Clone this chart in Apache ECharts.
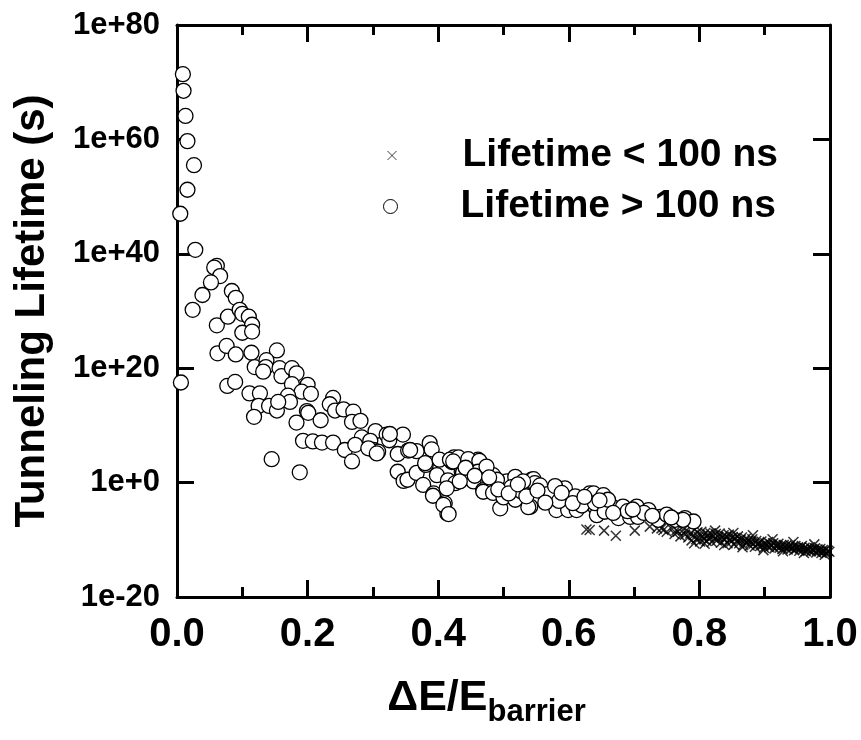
<!DOCTYPE html>
<html>
<head>
<meta charset="utf-8">
<script src="https://cdn.jsdelivr.net/npm/echarts@6/dist/echarts.min.js"></script>
<style>
  html, body { margin: 0; padding: 0; background: #fff; }
  #container { width: 861px; height: 740px; }
</style>
</head>
<body>
<div id="container"></div>
<script>
// points are [ΔE/E_barrier, log10(lifetime in s)]
var shortLived = [
  [0.627,-8.2],[0.632,-8.3],[0.654,-8.4],[0.672,-9.3],[0.701,-8.4],[0.724,-7.7],
  [0.735,-8.0],[0.742,-8.0],[0.745,-8.3],[0.750,-8.6],[0.758,-8.1],[0.762,-9.0],
  [0.765,-8.3],[0.767,-8.6],[0.771,-9.4],[0.775,-8.3],[0.778,-9.1],
  [0.780,-8.4],[0.783,-9.6],[0.786,-8.9],[0.788,-10.1],[0.791,-9.2],[0.793,-8.2],
  [0.795,-9.9],[0.797,-8.7],[0.799,-9.5],[0.801,-10.3],[0.803,-8.6],[0.805,-9.4],
  [0.807,-9.9],[0.809,-8.8],[0.811,-10.2],[0.813,-9.1],[0.815,-9.7],[0.817,-8.9],
  [0.819,-10.4],[0.821,-9.3],[0.823,-9.8],[0.825,-9.0],[0.827,-10.1],[0.829,-9.5],
  [0.831,-8.9],[0.833,-10.5],[0.835,-9.6],[0.837,-9.2],[0.839,-10.0],[0.841,-9.4],
  [0.843,-10.6],[0.845,-9.1],[0.847,-9.9],[0.849,-10.3],[0.851,-9.5],[0.853,-10.8],
  [0.855,-9.7],[0.857,-10.2],[0.859,-9.4],[0.861,-10.6],[0.863,-10.0],[0.865,-9.6],
  [0.867,-10.9],[0.869,-10.3],[0.871,-9.8],[0.873,-10.5],[0.875,-10.1],[0.877,-11.0],
  [0.879,-10.4],[0.881,-9.9],[0.883,-10.7],[0.885,-11.2],[0.887,-10.2],[0.889,-10.8],
  [0.891,-10.5],[0.893,-11.1],[0.895,-10.3],[0.897,-10.9],[0.899,-11.4],[0.901,-10.6],
  [0.903,-11.0],[0.905,-10.4],[0.907,-11.3],[0.909,-10.8],[0.911,-11.1],[0.913,-10.6],
  [0.915,-11.5],[0.917,-10.9],[0.919,-11.2],[0.921,-10.7],[0.923,-11.4],[0.925,-11.0],
  [0.927,-11.6],[0.929,-10.9],[0.931,-11.3],[0.933,-11.0],[0.935,-11.7],[0.937,-11.2],
  [0.939,-10.9],[0.941,-11.5],[0.943,-11.2],[0.945,-11.8],[0.947,-11.1],[0.949,-11.5],
  [0.951,-11.3],[0.953,-11.9],[0.955,-11.4],[0.957,-11.1],[0.959,-11.7],[0.961,-11.4],
  [0.963,-12.0],[0.965,-11.5],[0.967,-11.8],[0.969,-11.3],[0.971,-12.0],[0.973,-11.6],
  [0.975,-11.9],[0.977,-11.5],[0.979,-12.2],[0.981,-11.7],[0.983,-12.0],[0.985,-11.6],
  [0.987,-12.3],[0.989,-11.8],[0.991,-12.1],[0.993,-11.7],[0.995,-12.3],[0.997,-11.9],
  [0.999,-12.1],
  [0.792,-10.6],[0.808,-10.7],[0.824,-8.4],[0.838,-10.9],[0.852,-8.8],[0.866,-11.3],
  [0.882,-9.2],[0.898,-11.8],[0.912,-9.9],[0.928,-12.0],[0.944,-10.4],[0.960,-12.3],
  [0.976,-10.8],[0.992,-12.6]
];

var longLived = [
  [0.009,71.4],[0.010,68.5],[0.013,64.1],[0.016,59.7],[0.026,55.5],[0.016,51.2],
  [0.005,47.0],[0.028,40.7],[0.061,37.9],[0.057,37.6],[0.066,36.1],[0.052,35.0],
  [0.039,32.8],[0.084,33.5],[0.090,32.3],[0.006,17.5],[0.024,30.2],[0.061,27.5],
  [0.078,29.0],[0.096,30.2],[0.100,29.5],[0.110,29.0],[0.115,27.6],[0.100,26.2],
  [0.115,26.4],[0.062,22.6],[0.076,23.9],[0.090,22.4],[0.114,22.7],[0.153,23.1],
  [0.119,20.2],[0.137,21.4],[0.136,20.2],[0.132,19.4],[0.157,20.0],[0.160,18.6],
  [0.176,20.0],[0.183,19.1],[0.176,17.2],[0.200,17.1],[0.191,15.9],[0.205,15.5],
  [0.170,15.2],[0.173,14.1],[0.077,16.9],[0.089,17.6],[0.111,15.6],[0.127,15.6],
  [0.125,13.4],[0.141,13.4],[0.118,11.5],[0.153,12.6],[0.183,10.5],[0.199,12.5],
  [0.201,12.2],[0.220,10.9],[0.239,14.8],[0.234,13.7],[0.242,12.6],[0.255,12.8],
  [0.270,12.4],[0.268,10.6],[0.281,10.8],[0.283,7.9],[0.193,7.3],[0.208,7.2],
  [0.222,7.0],[0.239,7.0],[0.257,5.7],[0.268,3.7],[0.273,6.6],[0.304,9.0],
  [0.321,8.4],[0.346,8.4],[0.296,7.3],[0.301,5.7],[0.308,5.4],[0.325,7.4],
  [0.145,4.1],[0.188,1.8],[0.338,5.0],[0.338,1.9],[0.347,0.3],[0.353,0.5],
  [0.367,5.5],[0.387,6.9],[0.390,5.8],[0.367,1.7],[0.381,3.1],[0.377,-0.4],
  [0.393,-1.9],[0.392,-2.3],[0.398,1.3],[0.155,14.1],
  [0.293,6.0],[0.306,5.1],[0.326,8.5],[0.354,5.6],[0.402,4.0],[0.415,0.4],
  [0.421,3.6],[0.424,4.4],[0.426,-0.1],[0.410,-3.6],[0.414,-5.4],
  [0.357,5.7],[0.380,3.4],[0.408,-3.9],[0.418,4.0],[0.431,4.4],[0.436,1.9],
  [0.449,3.7],[0.461,4.0],[0.464,2.2],[0.454,0.2],[0.469,-1.3],[0.484,-0.4],
  [0.495,-4.5],[0.505,0.2],[0.518,1.0],[0.518,-2.8],[0.541,-4.2],[0.543,0.5],
  [0.546,-1.0],[0.561,-1.6],[0.576,-1.3],[0.581,-4.8],[0.594,-2.5],[0.602,-4.5],
  [0.617,-3.0],[0.632,-1.9],
  [0.423,3.7],[0.446,4.1],[0.463,3.8],[0.438,1.7],[0.461,1.9],[0.413,-1.0],
  [0.433,0.2],[0.416,-5.5],[0.484,1.3],[0.469,-1.6],[0.484,-1.8],[0.500,-2.6],
  [0.518,-3.0],[0.538,-4.3],[0.546,0.6],[0.548,-0.1],[0.574,-2.6],[0.597,-2.6],
  [0.594,-1.0],[0.599,-4.8],[0.612,-4.8],[0.630,-3.3],[0.640,-4.2],[0.643,-5.7],
  [0.474,2.8],[0.490,0.5],[0.512,-0.8],[0.527,-1.5],[0.530,0.2],[0.556,-0.5],
  [0.568,-2.0],[0.585,-3.2],[0.610,-2.4],[0.620,-4.0],
  [0.638,-1.9],[0.653,-2.2],[0.640,-3.6],[0.666,-4.2],[0.655,-5.1],[0.683,-4.2],
  [0.676,-6.2],[0.704,-4.2],[0.694,-6.0],[0.706,-6.0],[0.722,-4.8],[0.740,-6.0],
  [0.737,-6.5],[0.763,-6.5],[0.778,-6.2],[0.791,-6.8],[0.775,-6.5],[0.660,-3.0],
  [0.690,-5.0],[0.715,-5.3],[0.750,-5.6],
  [0.442,2.6],[0.456,1.2],[0.478,0.9],[0.492,-1.2],[0.508,-1.9],[0.522,-0.3],
  [0.535,-2.4],[0.552,-1.4],[0.564,-3.5],[0.579,-0.6],[0.589,-1.8],[0.606,-3.6],
  [0.624,-2.5],[0.647,-3.1],[0.668,-5.3],[0.698,-4.7],[0.728,-5.8],[0.757,-6.1]
];

var seriesNames = ['Lifetime < 100 ns', 'Lifetime > 100 ns'];
var xTicks = [0, 1, 0.2];       // min, max, interval
var yTicks = [-20, 80, 20];     // decades: min, max, interval

var font = 'Liberation Sans, Arial, Helvetica, sans-serif';

// y values are decades, so labels are written as powers of ten
function expLabel(v) {
  var e = Math.round(v);
  return '1e' + (e >= 0 ? '+' : '') + e;
}

var crossPath = 'path://M0,0L10,10M0,10L10,0';

var dom = document.getElementById('container');
var myChart = echarts.init(dom, null, { renderer: 'canvas' });

var axisLine = { show: true, onZero: false, lineStyle: { color: '#000', width: 3 } };
var bigTick = { inside: true, length: 17, lineStyle: { width: 3, color: '#000' } };
var smallTick = { show: true, splitNumber: 2, length: 10, lineStyle: { width: 3, color: '#000' } };

var option = {
  animation: false,
  backgroundColor: '#fff',
  grid: { left: 177, right: 31, top: 25, bottom: 143, outerBoundsMode: 'none' },
  legend: [{
    data: [{ name: seriesNames[0], icon: crossPath }],
    left: 385, top: 136, padding: 0,
    itemWidth: 9, itemHeight: 9,
    selectedMode: false,
    itemStyle: { color: 'none', borderColor: '#111', borderWidth: 1 },
    textStyle: { fontFamily: font, fontWeight: 'bold', fontSize: 39, color: '#000', padding: [0, 0, 0, 61] }
  }, {
    data: [{ name: seriesNames[1], icon: 'circle' }],
    left: 383, top: 187, padding: 0,
    itemWidth: 14, itemHeight: 14,
    selectedMode: false,
    itemStyle: { color: '#fff', borderColor: '#000', borderWidth: 1 },
    textStyle: { fontFamily: font, fontWeight: 'bold', fontSize: 39, color: '#000', padding: [0, 0, 0, 58] }
  }],
  xAxis: [{
    type: 'value',
    min: xTicks[0], max: xTicks[1], interval: xTicks[2],
    axisLine: axisLine,
    axisTick: bigTick,
    minorTick: smallTick,
    splitLine: { show: false },
    axisLabel: {
      margin: 18, fontFamily: font, fontWeight: 'bold', fontSize: 40, color: '#000',
      formatter: function (v) { return v.toFixed(1); }
    },
    name: '{m|ΔE/E}{s|barrier}',
    nameLocation: 'middle',
    nameGap: 72,
    nameTextStyle: {
      color: '#000',
      padding: [0, 34, 0, 0],
      rich: {
        m: { fontFamily: font, fontWeight: 'bold', fontSize: 43, color: '#000' },
        s: { fontFamily: font, fontWeight: 'bold', fontSize: 31, color: '#000', padding: [28, 0, 0, 0] }
      }
    }
  }, {
    type: 'value', position: 'top',
    min: xTicks[0], max: xTicks[1], interval: xTicks[2],
    axisLine: axisLine,
    axisTick: bigTick,
    minorTick: smallTick,
    splitLine: { show: false },
    axisLabel: { show: false }
  }],
  yAxis: [{
    type: 'value',
    min: yTicks[0], max: yTicks[1], interval: yTicks[2],
    axisLine: axisLine,
    axisTick: bigTick,
    splitLine: { show: false },
    axisLabel: {
      margin: 17, fontFamily: font, fontWeight: 'bold', fontSize: 31, color: '#000',
      formatter: expLabel
    },
    name: 'Tunneling Lifetime (s)',
    nameLocation: 'middle',
    nameGap: 124,
    nameTextStyle: { fontFamily: font, fontWeight: 'bold', fontSize: 42, color: '#000' }
  }, {
    type: 'value', position: 'right',
    min: yTicks[0], max: yTicks[1], interval: yTicks[2],
    axisLine: axisLine,
    axisTick: bigTick,
    splitLine: { show: false },
    axisLabel: { show: false }
  }],
  series: [{
    name: seriesNames[0],
    type: 'scatter',
    symbol: crossPath,
    symbolSize: 10,
    itemStyle: { color: 'none', borderColor: '#000', borderWidth: 1.5 },
    data: shortLived
  }, {
    name: seriesNames[1],
    type: 'scatter',
    symbol: 'circle',
    symbolSize: 15,
    itemStyle: { color: '#fff', borderColor: '#000', borderWidth: 1.3, opacity: 1 },
    data: longLived
  }]
};

myChart.setOption(option);
</script>
</body>
</html>
